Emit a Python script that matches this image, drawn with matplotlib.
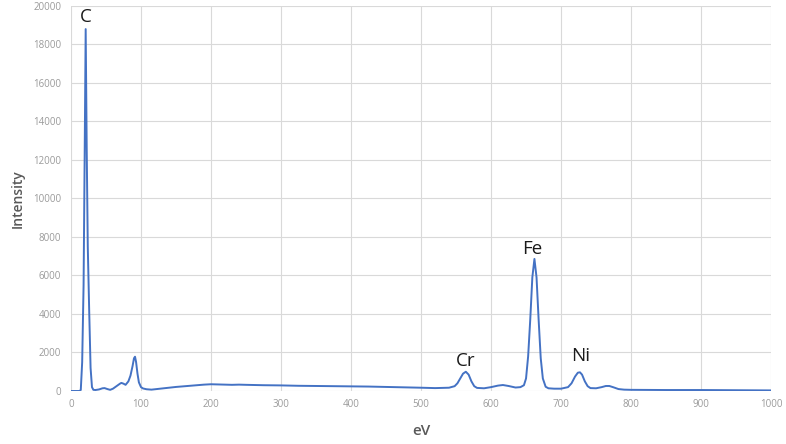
import matplotlib
matplotlib.use('Agg')
import matplotlib.pyplot as plt

plt.rcParams['font.family'] = ['Open Sans', 'DejaVu Sans']

# spectrum read as (energy, counts) pairs
energy_ev = [0, 5, 10, 12, 14, 16, 18, 19.5, 21, 22.5, 24, 26, 28, 30, 32,
             35, 40, 45, 48, 52, 56, 60, 65, 70, 72, 75, 78, 82, 85, 88, 90,
             91.5, 93, 95, 97, 100, 103, 108, 115, 120, 130, 140, 150, 160,
             170, 180, 190, 200, 210, 220, 230, 240, 250, 275, 300, 325, 350,
             375, 400, 425, 450, 475, 500, 520, 540, 548, 552, 556, 560, 564,
             568, 572, 576, 580, 590, 600, 610, 617, 625, 635, 642, 647, 650,
             653, 656, 659, 662, 665, 668, 671, 674, 678, 682, 690, 700,
             710, 715, 720, 724, 727, 730, 734, 738, 742, 750, 758, 764, 769,
             775, 782, 790, 800, 850, 900, 950, 1000]
intensity = [0, 0, 0, 0, 50, 1500, 5500, 12000, 18800, 12500, 7500, 4200,
             1200, 200, 60, 50, 80, 140, 150, 100, 60, 120, 250, 380, 420, 380,
             320, 500, 800, 1300, 1700, 1780, 1500, 900, 450, 200, 130, 90, 70,
             90, 130, 170, 210, 240, 270, 300, 330, 350, 340, 330, 320, 330,
             320, 300, 290, 270, 260, 250, 240, 230, 210, 190, 170, 150, 170,
             250, 400, 650, 900, 1000, 850, 500, 250, 160, 140, 200, 280, 310,
             260, 180, 200, 300, 650, 1800, 3700, 5900, 6860, 5900, 3700, 1700,
             650, 220, 140, 120, 120, 200, 400, 750, 950, 970, 850, 500,
             250, 150, 140, 200, 260, 260, 190, 100, 70, 60, 50, 50, 40, 30]

# element labels: name, energy, height
peak_names = ['C', 'Cr', 'Fe', 'Ni']
peak_ev = [21, 564, 659.5, 728]
peak_label_y = [19430, 1560, 7380, 1830]

fig = plt.figure(figsize=(7.86, 4.44), dpi=100)
ax = fig.add_axes([0.0903, 0.1194, 0.8907, 0.8671])

ax.plot(energy_ev, intensity, color='#4472C4', lw=1.4)

for name, x, y in zip(peak_names, peak_ev, peak_label_y):
    ax.text(x, y, name, ha='center', va='center', fontsize=13.5, color='#1a1a1a')

ax.set_xlim(0, 1000)
ax.set_ylim(0, 20000)
ax.set_xticks(range(0, 1001, 100))
ax.set_yticks(range(0, 20001, 2000))
ax.grid(True, color='#d9d9d9', lw=0.8)
ax.set_axisbelow(True)
for s in ax.spines.values():
    s.set_visible(False)
ax.tick_params(length=0, labelsize=7, labelcolor='#9a9a9a')
ax.tick_params(axis='y', pad=7)
ax.tick_params(axis='x', pad=6)

ax.set_xlabel('eV', fontsize=11, color='#595959', fontweight='semibold', labelpad=10)
ax.set_ylabel('Intensity', fontsize=10, color='#595959', fontweight='semibold', labelpad=6)

plt.savefig('out.png', dpi=100)
